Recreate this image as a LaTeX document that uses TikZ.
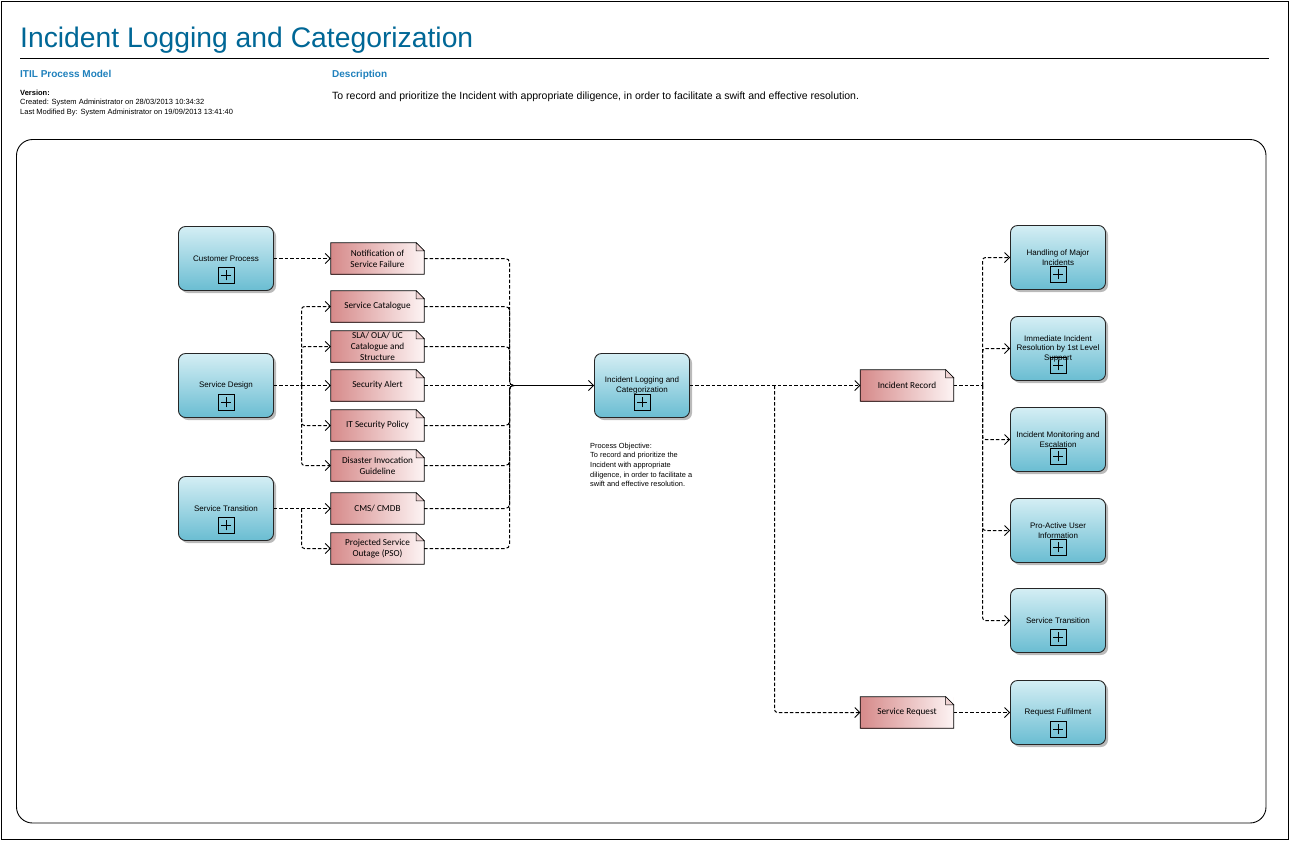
\documentclass[tikz,border=0pt]{standalone}
\usepackage{fontspec}
\setmainfont{Liberation Sans}
\newfontfamily\docfont{Carlito}
\usetikzlibrary{arrows.meta,shadows}
\definecolor{titleblue}{RGB}{0,103,150}
\definecolor{headblue}{RGB}{30,128,188}
\definecolor{procTop}{RGB}{212,238,244}
\definecolor{procBot}{RGB}{106,189,210}
\definecolor{docL}{RGB}{214,138,138}
\definecolor{docR}{RGB}{253,244,244}
\definecolor{docFold}{RGB}{240,212,212}
\tikzset{
  proc/.style={rounded corners=7pt, draw=black!85, line width=0.9pt,
    top color=procTop, bottom color=procBot, minimum width=95pt, minimum height=64pt,
    align=center, inner sep=2pt, font=\fontsize{8}{9.5}\selectfont,
    drop shadow={shadow xshift=2.5pt, shadow yshift=-2.5pt, opacity=0.45, fill=black!60}},
  plusbox/.style={draw, line width=0.8pt, minimum size=16pt, inner sep=0pt},
  doc/.style={minimum width=93pt, minimum height=31pt, left color=docL, right color=docR,
    inner sep=1pt, align=center, font=\docfont\fontsize{9.2}{11}\selectfont,
    path picture={\fill[white] ([xshift=-8pt]path picture bounding box.north east)
      -- (path picture bounding box.north east) -- ([yshift=-8pt]path picture bounding box.north east) -- cycle;}},
  flow/.style={line width=1pt, dash pattern=on 3.5pt off 2pt, rounded corners=3pt},
  flowarrow/.style={flow, -{Straight Barb[length=5pt,width=10pt,line width=0.8pt]}},
  solidarrow/.style={line width=1pt, -{Straight Barb[length=5pt,width=10pt,line width=0.8pt]}},
  txt/.style={inner sep=0pt, anchor=base west}
}
\newcommand\docframe[1]{%
  \draw[line width=0.8pt] (#1.south west) -- (#1.north west) -- ([xshift=-8pt]#1.north east)
    -- ([yshift=-8pt]#1.north east) -- (#1.south east) -- cycle;
  \filldraw[fill=docFold, line width=0.5pt] ([xshift=-8pt]#1.north east) -- ([xshift=-8pt,yshift=-8pt]#1.north east)
    -- ([yshift=-8pt]#1.north east) -- cycle;}
\newcommand\mydoc[4]{\node[doc] (#1) at (#2,#3) {#4};\docframe{#1}}
\newcommand\myproc[4]{\node[proc] (#1) at (#2,#3) {#4};
  \node[plusbox] (#1p) at ([yshift=15.5pt]#1.south) {};
  \draw[line width=0.65pt] ([xshift=-5pt]#1p.center) -- ([xshift=5pt]#1p.center)
    ([yshift=-5pt]#1p.center) -- ([yshift=5pt]#1p.center);}
\begin{document}
\begin{tikzpicture}[x=1pt,y=-1pt]
\useasboundingbox (0,0) rectangle (1290,841);
\draw[line width=0.9pt] (1.5,1.5) rectangle (1288.5,839.5);
% header
\node[txt, text=titleblue, font=\fontsize{28.3}{32}\selectfont] (title) at (20,47) {Incident Logging and Categorization};
\draw[line width=0.9pt] (20,58.5) -- (1269,58.5);
\node[txt, text=headblue, font=\bfseries\fontsize{10}{12}\selectfont] (itil) at (20,77) {ITIL Process Model};
\node[txt, text=headblue, font=\bfseries\fontsize{10}{12}\selectfont] (deschead) at (332,77) {Description};
\node[txt, font=\bfseries\fontsize{7.5}{9}\selectfont] (ver) at (20,95.5) {Version:};
\node[txt, font=\fontsize{7.5}{9}\selectfont] (created) at (20,104.5) {Created: System Administrator on 28/03/2013 10:34:32};
\node[txt, font=\fontsize{7.5}{9}\selectfont] (lastmod) at (20,114) {Last Modified By: System Administrator on 19/09/2013 13:41:40};
\node[txt, font=\fontsize{10.5}{12}\selectfont] (desc) at (332,99.5) {To record and prioritize the Incident with appropriate diligence, in order to facilitate a swift and effective resolution.};
% frame
\draw[line width=0.9pt, rounded corners=16pt] (16.5,139.5) rectangle (1266,823);
% left processes
\myproc{cp}{226}{258.5}{Customer Process}
\myproc{sd}{226}{385.5}{Service Design}
\myproc{st}{226}{508.5}{Service Transition}
% documents
\mydoc{nsf}{377.5}{258.5}{Notification of\\Service Failure}
\mydoc{sc}{377.5}{306.5}{Service Catalogue}
\mydoc{sla}{377.5}{346.5}{SLA/ OLA/ UC\\Catalogue and\\Structure}
\mydoc{sa}{377.5}{385.5}{Security Alert}
\mydoc{itsp}{377.5}{425.5}{IT Security Policy}
\mydoc{dig}{377.5}{465.5}{Disaster Invocation\\Guideline}
\mydoc{cms}{377.5}{508.5}{CMS/ CMDB}
\mydoc{pso}{377.5}{548.5}{Projected Service\\Outage (PSO)}
% centre
\myproc{ilc}{642}{385.5}{Incident Logging and\\Categorization}
\node[anchor=north west, align=left, inner sep=0pt, font=\fontsize{7.4}{9.7}\selectfont] (obj) at (590,442.5)
  {Process Objective:\\To record and prioritize the\\Incident with appropriate\\diligence, in order to facilitate a\\swift and effective resolution.};
% records
\mydoc{ir}{907}{385.5}{Incident Record}
\mydoc{sr}{907}{712.5}{Service Request}
% right processes
\myproc{hmi}{1058}{257.5}{Handling of Major\\Incidents}
\myproc{iir}{1058}{348.5}{Immediate Incident\\Resolution by 1st Level\\Support}
\myproc{ime}{1058}{439.5}{Incident Monitoring and\\Escalation}
\myproc{pau}{1058}{530.5}{Pro-Active User\\Information}
\myproc{str}{1058}{620.5}{Service Transition}
\myproc{rf}{1058}{712.5}{Request Fulfilment}
% junctions
\coordinate (jsd) at (301.5,385.5);
\coordinate (jst) at (301.5,508.5);
\coordinate (jl) at (514,385.5);
\coordinate (jil) at (774.5,385.5);
\coordinate (jr) at (982.5,385.5);
% connectors left
\draw[flowarrow] (cp.east) -- (nsf.west);
\draw[flowarrow] (sd.east) -- (sa.west);
\foreach \d in {sc,sla,itsp,dig} {\draw[flowarrow] (jsd) |- (\d.west);}
\fill (jsd) circle (1.2pt);
\draw[flowarrow] (st.east) -- (cms.west);
\draw[flowarrow] (jst) |- (pso.west);
% bus into incident logging
\foreach \d in {nsf,sc,sla,itsp,dig,cms,pso} {\draw[flow, rounded corners=4pt] (\d.east) -| (509.5,385.5) -- (jl);}
\draw[flow] (sa.east) -- (jl);
\draw[solidarrow] (jl) -- (ilc.west);
% right side
\draw[flowarrow] (ilc.east) -- (ir.west);
\draw[flowarrow] (jil) |- (sr.west);
\draw[flow] (ir.east) -- (jr);
\foreach \b in {hmi,iir,ime,pau,str} {\draw[flowarrow] (jr) |- (\b.west);}
\draw[flowarrow] (sr.east) -- (rf.west);
\end{tikzpicture}
\end{document}
